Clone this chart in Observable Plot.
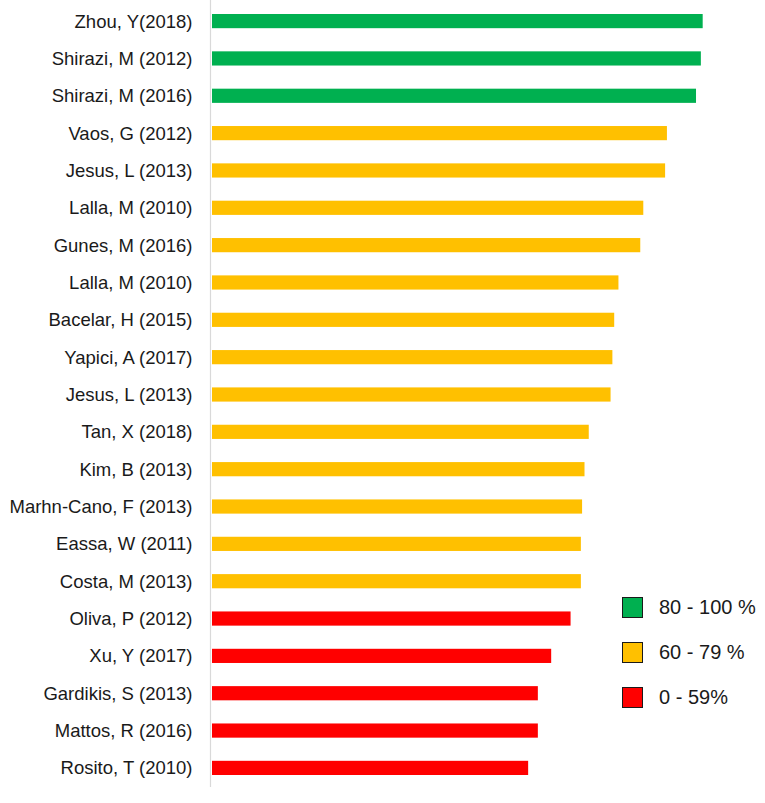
<!DOCTYPE html>
<html>
<head>
<meta charset="utf-8">
<script src="https://cdn.jsdelivr.net/npm/d3@7"></script>
<script src="https://cdn.jsdelivr.net/npm/@observablehq/plot@0.6"></script>
<style>
  html, body { margin: 0; padding: 0; background: #fff; }
  #wrap { position: relative; width: 765px; height: 803px; font-family: "Liberation Sans", Arial, sans-serif; }
  .legend { position: absolute; left: 622px; top: 596px; }
  .legend .row { display: flex; align-items: center; height: 22px; margin-bottom: 23px; }
  .legend .sw { width: 19px; height: 19px; border: 1.5px solid #1a1a1a; box-sizing: content-box; }
  .legend .lab { margin-left: 16px; font-size: 20px; color: #1a1a1a; white-space: nowrap; }
</style>
</head>
<body>
<div id="wrap"></div>
<script>
const studies = [
  "Zhou, Y(2018)", "Shirazi, M (2012)", "Shirazi, M (2016)", "Vaos, G (2012)",
  "Jesus, L (2013)", "Lalla, M (2010)", "Gunes, M (2016)", "Lalla, M (2010) ",
  "Bacelar, H (2015)", "Yapici, A (2017)", "Jesus, L (2013) ", "Tan, X (2018)",
  "Kim, B (2013)", "Marhn-Cano, F (2013)", "Eassa, W (2011)", "Costa, M (2013)",
  "Oliva, P (2012)", "Xu, Y (2017)", "Gardikis, S (2013)", "Mattos, R (2016)",
  "Rosito, T (2010)"
];
const scores = [
  81.3, 81.0, 80.2, 75.4,
  75.1, 71.5, 71.0, 67.4,
  66.7, 66.4, 66.1, 62.5,
  61.8, 61.4, 61.2, 61.2,
  59.5, 56.3, 54.1, 54.1,
  52.5
];
const legendLabels = ["80 - 100 %", "60 - 79 %", "0 - 59%"];
const legendColors = ["#00b050", "#ffc000", "#ff0000"];
const thresholds = [60, 80];

const data = studies.map((s, i) => ({study: s, score: scores[i]}));

const chart = Plot.plot({
  width: 765,
  height: 803,
  marginLeft: 210,
  marginRight: 0,
  marginTop: 14,
  marginBottom: 28,
  style: {fontFamily: "Liberation Sans, Arial, sans-serif", fontSize: "18.5px", color: "#1a1a1a", background: "#fff"},
  x: {domain: [0, 555 / 6.06], axis: null},
  y: {domain: studies, paddingInner: 0.62, paddingOuter: 0, round: false, label: null},
  color: {type: "threshold", domain: thresholds, range: [legendColors[2], legendColors[1], legendColors[0]]},
  marks: [
    Plot.barX(data, {y: "study", x: "score", fill: "score", insetLeft: 2}),
    Plot.ruleX([0], {stroke: "#d9d9d9", strokeWidth: 1.2, insetTop: -14, insetBottom: -12}),
    Plot.axisY({tickSize: 0, tickPadding: 18, fontSize: 18.5, fill: "#1a1a1a", tickFormat: d => d.trim()})
  ]
});
const wrap = document.getElementById("wrap");
wrap.appendChild(chart);

const leg = document.createElement("div");
leg.className = "legend";
legendLabels.forEach((l, i) => {
  const row = document.createElement("div");
  row.className = "row";
  const sw = document.createElement("div");
  sw.className = "sw";
  sw.style.background = legendColors[i];
  const lab = document.createElement("span");
  lab.className = "lab";
  lab.textContent = l;
  row.appendChild(sw);
  row.appendChild(lab);
  leg.appendChild(row);
});
wrap.appendChild(leg);
</script>
</body>
</html>
